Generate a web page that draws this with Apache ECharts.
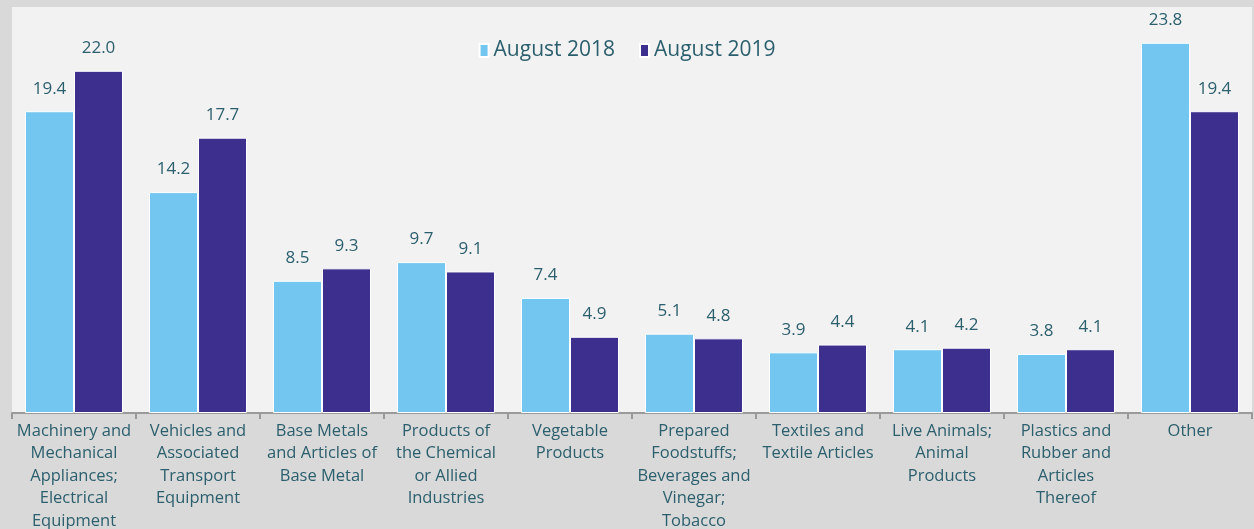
<!DOCTYPE html>
<html>
<head>
<meta charset="utf-8">
<script src="https://cdn.jsdelivr.net/npm/echarts@6/dist/echarts.min.js"></script>
<style>
html,body{margin:0;padding:0;background:#d9d9d9;}
#c{width:1254px;height:529px;}
</style>
</head>
<body>
<div id="c"></div>
<script>
const categories = [
  "Machinery and\nMechanical\nAppliances;\nElectrical\nEquipment",
  "Vehicles and\nAssociated\nTransport\nEquipment",
  "Base Metals\nand Articles of\nBase Metal",
  "Products of\nthe Chemical\nor Allied\nIndustries",
  "Vegetable\nProducts",
  "Prepared\nFoodstuffs;\nBeverages and\nVinegar;\nTobacco",
  "Textiles and\nTextile Articles",
  "Live Animals;\nAnimal\nProducts",
  "Plastics and\nRubber and\nArticles\nThereof",
  "Other"
];
const seriesNames = ["August 2018", "August 2019"];
const aug2018 = [19.4, 14.2, 8.5, 9.7, 7.4, 5.1, 3.9, 4.1, 3.8, 23.8];
const aug2019 = [22.0, 17.7, 9.3, 9.1, 4.9, 4.8, 4.4, 4.2, 4.1, 19.4];

const textColor = '#2b5f6d';
const font = 'Open Sans';
const chart = echarts.init(document.getElementById('c'));
const labelCfg = {
  show: true, position: 'top', distance: 14,
  color: textColor, fontFamily: font, fontSize: 17,
  formatter: p => p.value.toFixed(1)
};
chart.setOption({
  backgroundColor: '#d9d9d9',
  animation: false,
  legend: {
    top: 35, left: 'center',
    itemWidth: 9, itemHeight: 13, itemGap: 24, itemTextGap: 5,
    icon: 'rect',
    textStyle: {color: textColor, fontFamily: font, fontSize: 21},
    data: seriesNames
  },
  grid: {
    left: 12, right: 2, top: 7, bottom: 116,
    outerBoundsMode: 'none', containLabel: false,
    show: true, backgroundColor: '#f2f2f2', borderWidth: 0
  },
  xAxis: {
    type: 'category', data: categories,
    axisLine: {lineStyle: {color: '#9a9a9a', width: 2}},
    axisTick: {show: true, length: 6, lineStyle: {color: '#9a9a9a', width: 2}},
    axisLabel: {
      interval: 0, color: textColor, fontFamily: font, fontSize: 16.5,
      lineHeight: 22.5, margin: 7
    }
  },
  yAxis: {
    type: 'value', min: 0, max: 26.1, show: false,
    splitLine: {show: false}
  },
  series: [
    {
      name: seriesNames[0], type: 'bar', data: aug2018,
      barWidth: 49, barGap: '0%',
      itemStyle: {color: '#73c6ef', borderColor: '#ffffff', borderWidth: 1},
      label: labelCfg
    },
    {
      name: seriesNames[1], type: 'bar', data: aug2019,
      barWidth: 49,
      itemStyle: {color: '#3c2f8e', borderColor: '#ffffff', borderWidth: 1},
      label: labelCfg
    }
  ]
});
</script>
</body>
</html>
